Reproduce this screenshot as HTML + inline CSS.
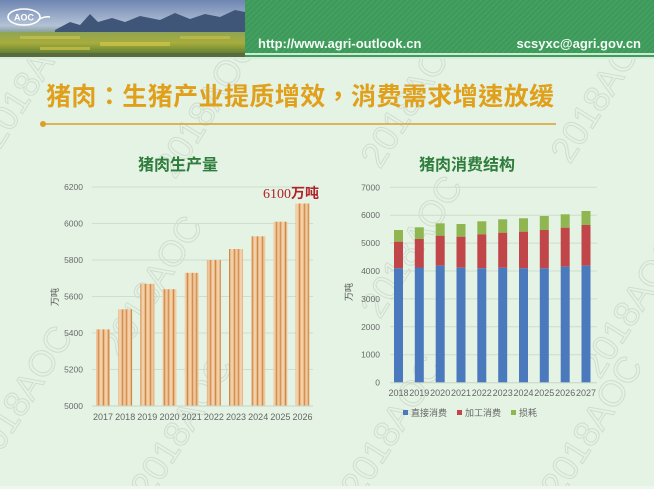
<!DOCTYPE html>
<html><head><meta charset="utf-8">
<style>
html,body{margin:0;padding:0;background:#e4f3e3;}
svg{display:block;}
text{font-family:"Liberation Sans","Noto Sans CJK SC",sans-serif;}
</style></head>
<body>
<svg width="654" height="489" viewBox="0 0 654 489" xmlns="http://www.w3.org/2000/svg">
<defs>
  <linearGradient id="sky" x1="0" y1="0" x2="0" y2="1">
    <stop offset="0" stop-color="#6f86b2"/>
    <stop offset="0.45" stop-color="#b3c2d6"/>
    <stop offset="0.55" stop-color="#8ea4a0"/>
    <stop offset="1" stop-color="#6e8e3c"/>
  </linearGradient>
  <linearGradient id="field" x1="0" y1="0" x2="0" y2="1">
    <stop offset="0" stop-color="#8fa454"/>
    <stop offset="0.5" stop-color="#a7ad3c"/>
    <stop offset="1" stop-color="#5c7e34"/>
  </linearGradient>
  <pattern id="diag" width="4" height="4" patternUnits="userSpaceOnUse" patternTransform="rotate(45)">
    <rect width="4" height="4" fill="#3e9a5b"/>
    <rect width="1" height="4" fill="#47a464"/>
  </pattern>
  <pattern id="stripe" width="14" height="10" patternUnits="userSpaceOnUse">
    <rect width="14" height="10" fill="#ebb887"/>
    <rect x="0" width="1" height="10" fill="#d49559"/>
    <rect x="2" width="2" height="10" fill="#f3d0aa"/>
    <rect x="5" width="1" height="10" fill="#c98c4f"/>
    <rect x="7" width="2" height="10" fill="#f3cfa6"/>
    <rect x="10" width="1" height="10" fill="#cf9154"/>
    <rect x="12" width="1" height="10" fill="#f0c8a0"/>
  </pattern>
</defs>

<rect x="0" y="0" width="654" height="489" fill="#e4f3e3"/>

<g fill="none" stroke="#c4cec4" stroke-width="1" opacity="0.6" font-size="36">
  <text transform="translate(0,150) rotate(-58)">2018AOC</text>
  <text transform="translate(175,180) rotate(-58)">2018AOC</text>
  <text transform="translate(380,170) rotate(-58)">2018AOC</text>
  <text transform="translate(570,165) rotate(-58)">2018AOC</text>
  <text transform="translate(120,360) rotate(-58)">2018AOC</text>
  <text transform="translate(380,320) rotate(-58)">2018AOC</text>
  <text transform="translate(600,380) rotate(-58)">2018AOC</text>
  <text transform="translate(-10,470) rotate(-58)">2018AOC</text>
  <text transform="translate(150,500) rotate(-58)">2018AOC</text>
  <text transform="translate(360,500) rotate(-58)">2018AOC</text>
  <text transform="translate(560,500) rotate(-58)">2018AOC</text>
</g>

<rect x="0" y="0" width="245" height="57" fill="url(#sky)"/>
<polygon points="55,30 70,22 80,25 90,14 98,22 112,18 125,22 140,16 160,20 175,13 190,19 205,14 220,17 235,10 245,12 245,32 55,32" fill="#3f5678"/>
<rect x="0" y="32" width="245" height="22" fill="url(#field)"/>
<rect x="20" y="36" width="60" height="3" fill="#c9c04c" opacity="0.7"/>
<rect x="100" y="42" width="70" height="4" fill="#d2c64a" opacity="0.7"/>
<rect x="180" y="36" width="50" height="3" fill="#c6be48" opacity="0.7"/>
<rect x="40" y="47" width="50" height="3" fill="#cfc24a" opacity="0.7"/>
<rect x="0" y="53" width="245" height="4" fill="#5a6a40"/>
<ellipse cx="24" cy="17" rx="16" ry="8" fill="none" stroke="#ffffff" stroke-width="1.6"/>
<text x="24" y="20.5" font-size="9" font-weight="bold" fill="#ffffff" text-anchor="middle">AOC</text>
<path d="M38,20 q6,-4 12,-3" stroke="#ffffff" stroke-width="1.5" fill="none"/>

<rect x="245" y="0" width="409" height="53" fill="url(#diag)"/>
<rect x="245" y="53" width="409" height="2" fill="#cdebd0"/>
<rect x="245" y="55" width="409" height="3" fill="#3f9a5c"/>
<rect x="0" y="57" width="654" height="2" fill="#d8eedb"/>
<text x="258" y="48" font-size="13" font-weight="bold" fill="#f4fbf4">http://www.agri-outlook.cn</text>
<text x="641" y="48" font-size="13" font-weight="bold" fill="#f4fbf4" text-anchor="end">scsyxc@agri.gov.cn</text>

<text x="46" y="105" font-size="25" font-weight="bold" fill="#e0a01c" textLength="508" lengthAdjust="spacing" style="font-family:'Liberation Sans','Noto Sans CJK TC',sans-serif;">猪肉：生猪产业提质增效，消费需求增速放缓</text>
<line x1="43" y1="124" x2="556" y2="124" stroke="#dca02a" stroke-width="1.5"/>
<circle cx="43" cy="124" r="3" fill="#dca02a"/>

<text x="178" y="170" font-size="16" font-weight="bold" fill="#2e7d3c" text-anchor="middle">猪肉生产量</text>
<g stroke="#cfdccf" stroke-width="1">
  <line x1="92" y1="187" x2="313" y2="187"/>
  <line x1="92" y1="223.5" x2="313" y2="223.5"/>
  <line x1="92" y1="260" x2="313" y2="260"/>
  <line x1="92" y1="296.5" x2="313" y2="296.5"/>
  <line x1="92" y1="333" x2="313" y2="333"/>
  <line x1="92" y1="369.5" x2="313" y2="369.5"/>
</g>
<g font-size="8.5" fill="#6a6a6a" text-anchor="end">
  <text x="83" y="190">6200</text>
  <text x="83" y="226.5">6000</text>
  <text x="83" y="263">5800</text>
  <text x="83" y="299.5">5600</text>
  <text x="83" y="336">5400</text>
  <text x="83" y="372.5">5200</text>
  <text x="83" y="409">5000</text>
</g>
<text transform="translate(58,297) rotate(-90)" font-size="9" fill="#555" text-anchor="middle">万吨</text>
<g fill="url(#stripe)">
  <rect x="96" y="329.4" width="14" height="76.6"/>
  <rect x="118.2" y="309.3" width="14" height="96.7"/>
  <rect x="140.3" y="283.8" width="14" height="122.2"/>
  <rect x="162.5" y="289.2" width="14" height="116.8"/>
  <rect x="184.7" y="272.8" width="14" height="133.2"/>
  <rect x="206.9" y="260" width="14" height="146"/>
  <rect x="229" y="249" width="14" height="157"/>
  <rect x="251.2" y="236.3" width="14" height="169.7"/>
  <rect x="273.4" y="221.7" width="14" height="184.3"/>
  <rect x="295.5" y="203.5" width="14" height="202.5"/>
</g>
<line x1="92" y1="406" x2="313" y2="406" stroke="#c8d4c8" stroke-width="1"/>
<text x="319" y="198" font-size="14" fill="#b0222a" text-anchor="end" style="font-family:'Liberation Serif','Noto Serif CJK SC',serif;font-weight:normal;">6100<tspan style="font-family:'Noto Sans CJK SC',sans-serif;font-weight:bold;">万吨</tspan></text>
<g font-size="9" fill="#666" text-anchor="middle">
  <text x="103" y="420">2017</text>
  <text x="125.2" y="420">2018</text>
  <text x="147.3" y="420">2019</text>
  <text x="169.5" y="420">2020</text>
  <text x="191.7" y="420">2021</text>
  <text x="213.9" y="420">2022</text>
  <text x="236" y="420">2023</text>
  <text x="258.2" y="420">2024</text>
  <text x="280.4" y="420">2025</text>
  <text x="302.5" y="420">2026</text>
</g>

<text x="467" y="170" font-size="16" font-weight="bold" fill="#2e7d3c" text-anchor="middle">猪肉消费结构</text>
<g stroke="#cfdccf" stroke-width="1">
  <line x1="390" y1="187.3" x2="597" y2="187.3"/>
  <line x1="390" y1="215.2" x2="597" y2="215.2"/>
  <line x1="390" y1="243.1" x2="597" y2="243.1"/>
  <line x1="390" y1="271" x2="597" y2="271"/>
  <line x1="390" y1="298.9" x2="597" y2="298.9"/>
  <line x1="390" y1="326.8" x2="597" y2="326.8"/>
  <line x1="390" y1="354.7" x2="597" y2="354.7"/>
</g>
<g font-size="8.5" fill="#6a6a6a" text-anchor="end">
  <text x="380" y="190.3">7000</text>
  <text x="380" y="218.2">6000</text>
  <text x="380" y="246.1">5000</text>
  <text x="380" y="274">4000</text>
  <text x="380" y="301.9">3000</text>
  <text x="380" y="329.8">2000</text>
  <text x="380" y="357.7">1000</text>
  <text x="380" y="385.7">0</text>
</g>
<text transform="translate(352,292) rotate(-90)" font-size="9" fill="#555" text-anchor="middle">万吨</text>

<g>
  <rect x="394" y="230" width="9" height="11.7" fill="#8fb650"/>
  <rect x="394" y="241.7" width="9" height="26.6" fill="#c0464a"/>
  <rect x="394" y="268.3" width="9" height="114.4" fill="#4a79bd"/>
  <rect x="414.8" y="227.3" width="9" height="11.7" fill="#8fb650"/>
  <rect x="414.8" y="239" width="9" height="28.5" fill="#c0464a"/>
  <rect x="414.8" y="267.5" width="9" height="115.2" fill="#4a79bd"/>
  <rect x="435.7" y="223.3" width="9" height="12.4" fill="#8fb650"/>
  <rect x="435.7" y="235.7" width="9" height="30" fill="#c0464a"/>
  <rect x="435.7" y="265.7" width="9" height="117" fill="#4a79bd"/>
  <rect x="456.5" y="224" width="9" height="12.7" fill="#8fb650"/>
  <rect x="456.5" y="236.7" width="9" height="31" fill="#c0464a"/>
  <rect x="456.5" y="267.7" width="9" height="115" fill="#4a79bd"/>
  <rect x="477.3" y="221.3" width="9" height="13" fill="#8fb650"/>
  <rect x="477.3" y="234.3" width="9" height="34" fill="#c0464a"/>
  <rect x="477.3" y="268.3" width="9" height="114.4" fill="#4a79bd"/>
  <rect x="498.2" y="219.3" width="9" height="13.4" fill="#8fb650"/>
  <rect x="498.2" y="232.7" width="9" height="35.1" fill="#c0464a"/>
  <rect x="498.2" y="267.8" width="9" height="114.9" fill="#4a79bd"/>
  <rect x="519" y="218.3" width="9" height="13.4" fill="#8fb650"/>
  <rect x="519" y="231.7" width="9" height="36.6" fill="#c0464a"/>
  <rect x="519" y="268.3" width="9" height="114.4" fill="#4a79bd"/>
  <rect x="539.8" y="216" width="9" height="14" fill="#8fb650"/>
  <rect x="539.8" y="230" width="9" height="38.3" fill="#c0464a"/>
  <rect x="539.8" y="268.3" width="9" height="114.4" fill="#4a79bd"/>
  <rect x="560.7" y="214.3" width="9" height="13.4" fill="#8fb650"/>
  <rect x="560.7" y="227.7" width="9" height="39" fill="#c0464a"/>
  <rect x="560.7" y="266.7" width="9" height="116" fill="#4a79bd"/>
  <rect x="581.5" y="211" width="9" height="14" fill="#8fb650"/>
  <rect x="581.5" y="225" width="9" height="40.7" fill="#c0464a"/>
  <rect x="581.5" y="265.7" width="9" height="117" fill="#4a79bd"/>
</g>
<line x1="390" y1="382.7" x2="597" y2="382.7" stroke="#c8d4c8" stroke-width="1"/>
<g font-size="9" fill="#666" text-anchor="middle">
  <text x="398.5" y="396">2018</text>
  <text x="419.3" y="396">2019</text>
  <text x="440.2" y="396">2020</text>
  <text x="461" y="396">2021</text>
  <text x="481.8" y="396">2022</text>
  <text x="502.7" y="396">2023</text>
  <text x="523.5" y="396">2024</text>
  <text x="544.3" y="396">2025</text>
  <text x="565.2" y="396">2026</text>
  <text x="586" y="396">2027</text>
</g>
<rect x="403" y="410" width="5" height="5" fill="#4a79bd"/>
<text x="411" y="416" font-size="9" fill="#666">直接消费</text>
<rect x="457" y="410" width="5" height="5" fill="#c0464a"/>
<text x="465" y="416" font-size="9" fill="#666">加工消费</text>
<rect x="511" y="410" width="5" height="5" fill="#8fb650"/>
<text x="519" y="416" font-size="9" fill="#666">损耗</text>

<rect x="0" y="486" width="654" height="3" fill="#eef6ee"/>
</svg>
</body></html>
